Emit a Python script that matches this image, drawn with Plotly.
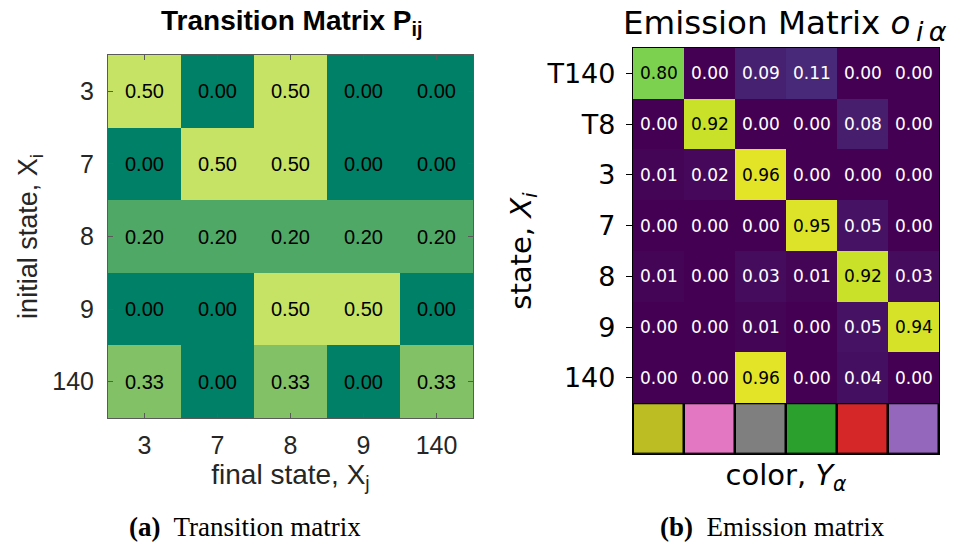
import plotly.graph_objects as go

# ---------------- data ----------------
trans_states = ["3", "7", "8", "9", "140"]
trans_matrix = [
    [0.50, 0.00, 0.50, 0.00, 0.00],
    [0.00, 0.50, 0.50, 0.00, 0.00],
    [0.20, 0.20, 0.20, 0.20, 0.20],
    [0.00, 0.00, 0.50, 0.50, 0.00],
    [0.33, 0.00, 0.33, 0.00, 0.33],
]

emis_states = ["T140", "T8", "3", "7", "8", "9", "140"]
emis_matrix = [
    [0.80, 0.00, 0.09, 0.11, 0.00, 0.00],
    [0.00, 0.92, 0.00, 0.00, 0.08, 0.00],
    [0.01, 0.02, 0.96, 0.00, 0.00, 0.00],
    [0.00, 0.00, 0.00, 0.95, 0.05, 0.00],
    [0.01, 0.00, 0.03, 0.01, 0.92, 0.03],
    [0.00, 0.00, 0.01, 0.00, 0.05, 0.94],
    [0.00, 0.00, 0.96, 0.00, 0.04, 0.00],
]
emis_colors = ["#bcbd22", "#e377c2", "#7f7f7f", "#2ca02c", "#d62728", "#9467bd"]

# ---------------- figure ----------------
fig = go.Figure()

summer = [[0.0, "#008066"], [1.0, "#ffff66"]]
fig.add_trace(go.Heatmap(
    z=trans_matrix, x=list(range(len(trans_states))), y=list(range(len(trans_states))),
    colorscale=summer, zmin=0, zmax=0.64, showscale=False,
    xaxis="x", yaxis="y", hoverinfo="skip",
))

fig.add_trace(go.Heatmap(
    z=emis_matrix, x=list(range(len(emis_colors))), y=list(range(len(emis_states))),
    colorscale="Viridis", zmin=0, zmax=1, showscale=False,
    xaxis="x2", yaxis="y2", hoverinfo="skip",
))

n_c = len(emis_colors)
disc = []
for k, c in enumerate(emis_colors):
    disc.append([k / n_c, c])
    disc.append([(k + 1) / n_c, c])
fig.add_trace(go.Heatmap(
    z=[list(range(n_c))], x=list(range(n_c)), y0=len(emis_states), dy=1,
    colorscale=disc, zmin=-0.5, zmax=n_c - 0.5, showscale=False,
    xgap=2.5, ygap=2.5, xaxis="x2", yaxis="y2", hoverinfo="skip",
))

annotations = []
for i, row in enumerate(trans_matrix):
    for j, v in enumerate(row):
        annotations.append(dict(
            x=j, y=i, xref="x", yref="y", text=f"{v:.2f}", showarrow=False,
            font=dict(family="Liberation Sans", size=20, color="#000000"),
        ))
for i, row in enumerate(emis_matrix):
    for j, v in enumerate(row):
        annotations.append(dict(
            x=j, y=i, xref="x2", yref="y2", text=f"{v:.2f}", showarrow=False,
            font=dict(family="DejaVu Sans", size=17,
                      color="#000000" if v > 0.5 else "#ffffff"),
        ))

# titles and captions
annotations += [
    dict(x=291 / 961, y=1 - 42 / 546, xref="paper", yref="paper", xanchor="center",
         yanchor="bottom", showarrow=False,
         text="<b>Transition Matrix P<sub>ij</sub></b>",
         font=dict(family="Liberation Sans", size=28, color="#000000")),
    dict(x=785 / 961, y=1 - 49 / 546, xref="paper", yref="paper", xanchor="center",
         yanchor="bottom", showarrow=False,
         text="Emission Matrix <i>o</i><sub><span style='font-size:27px'><i>\u2009i\u2009α</i></span></sub>",
         font=dict(family="DejaVu Sans", size=32.5, color="#000000")),
    dict(x=245 / 961, y=1 - 527 / 546, xref="paper", yref="paper", xanchor="center",
         yanchor="middle", showarrow=False,
         text="<b>(a)</b>  Transition matrix",
         font=dict(family="Liberation Serif", size=27, color="#000000")),
    dict(x=772 / 961, y=1 - 527 / 546, xref="paper", yref="paper", xanchor="center",
         yanchor="middle", showarrow=False,
         text="<b>(b)</b>  Emission matrix",
         font=dict(family="Liberation Serif", size=27, color="#000000")),
]

left_font = dict(family="Liberation Sans", size=25, color="#262626")
frame_l = "#5a5a5a"

fig.update_layout(
    width=961, height=546,
    margin=dict(l=0, r=0, t=0, b=0),
    paper_bgcolor="white", plot_bgcolor="black",
    showlegend=False,
    annotations=annotations,
    xaxis=dict(
        domain=[108 / 961, 473 / 961], anchor="y",
        range=[-0.5, len(trans_states) - 0.5],
        tickvals=list(range(len(trans_states))), ticktext=trans_states,
        ticks="inside", ticklen=5, tickcolor=frame_l, tickwidth=1,
        showline=True, linecolor=frame_l, linewidth=1, mirror="ticks",
        showgrid=False, zeroline=False, tickfont=left_font,
        ticklabelstandoff=5,
        title=dict(text="final state, X<sub>j</sub>",
                   font=dict(family="Liberation Sans", size=28, color="#262626"),
                   standoff=2),
    ),
    yaxis=dict(
        domain=[1 - 418 / 546, 1 - 55 / 546], anchor="x",
        range=[len(trans_states) - 0.5, -0.5],
        tickvals=list(range(len(trans_states))), ticktext=trans_states,
        ticks="inside", ticklen=5, tickcolor=frame_l, tickwidth=1,
        showline=True, linecolor=frame_l, linewidth=1, mirror="ticks",
        showgrid=False, zeroline=False, tickfont=left_font,
        ticklabelstandoff=8,
        title=dict(text="initial state, X<sub>i</sub>",
                   font=dict(family="Liberation Sans", size=27, color="#262626"),
                   standoff=6),
    ),
    xaxis2=dict(
        domain=[633 / 961, 939 / 961], anchor="y2",
        range=[-0.5, n_c - 0.5],
        showticklabels=False, ticks="",
        showline=True, linecolor="black", linewidth=1.3, mirror=True,
        showgrid=False, zeroline=False,
        title=dict(text="color, <i>Y</i><sub><i>α</i></sub>",
                   font=dict(family="DejaVu Sans", size=29, color="#000000"),
                   standoff=10),
    ),
    yaxis2=dict(
        domain=[1 - 454 / 546, 1 - 48 / 546], anchor="x2",
        range=[len(emis_states) + 0.5, -0.5],
        tickvals=list(range(len(emis_states))), ticktext=emis_states,
        ticks="outside", ticklen=6, tickcolor="black", tickwidth=1,
        showline=True, linecolor="black", linewidth=1.3, mirror=True,
        showgrid=False, zeroline=False,
        tickfont=dict(family="DejaVu Sans", size=27, color="#000000"),
        ticklabelstandoff=5,
        title=dict(text="state, <i>X</i><sub><i>i</i></sub>",
                   font=dict(family="DejaVu Sans", size=29, color="#000000"),
                   standoff=6),
    ),
)

fig.write_html(
    "out.html",
    config={"displayModeBar": False},
    post_script="document.body.style.margin='0';document.body.style.padding='0';",
)
